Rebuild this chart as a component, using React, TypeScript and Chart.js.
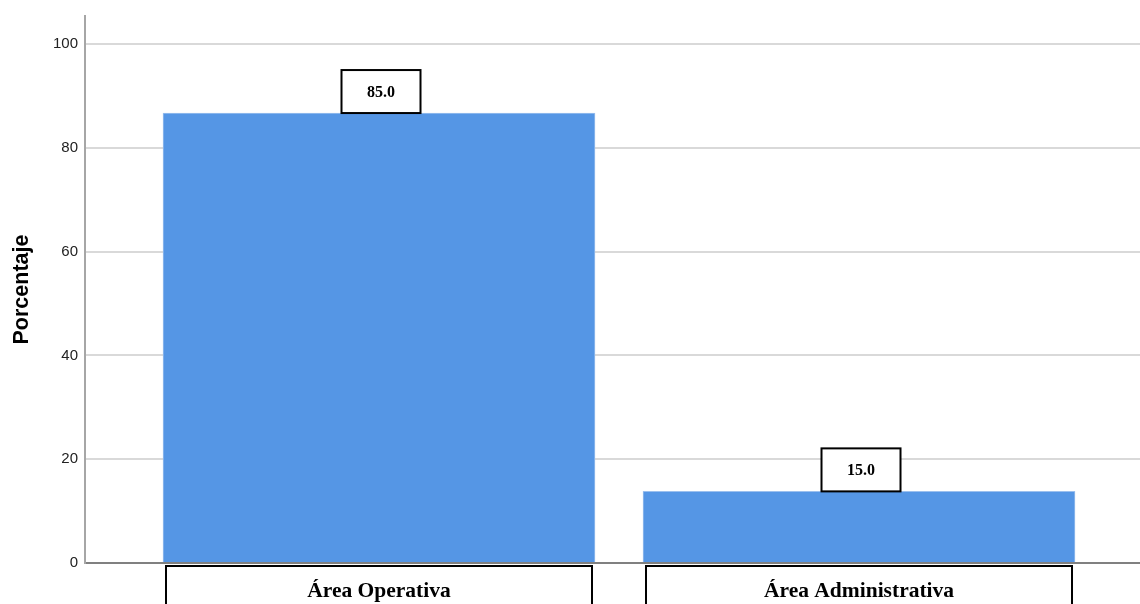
import React, { useEffect, useRef } from "react";
import { Chart, registerables } from "chart.js";

Chart.register(...registerables);

const categories = ["Área Operativa", "Área Administrativa"];
const barValues = [86.7, 13.8];
const valueLabels = ["85.0", "15.0"];
const yTicks = [0, 20, 40, 60, 80, 100];

const SERIF = "'Liberation Serif', 'Times New Roman', serif";
const SANS = "'Liberation Sans', Arial, sans-serif";

const boxesPlugin = {
  id: "boxes",
  afterDatasetsDraw(chart: any) {
    const ctx = chart.ctx;
    const meta = chart.getDatasetMeta(0);
    const area = chart.chartArea;
    ctx.save();
    meta.data.forEach((el: any, i: number) => {
      const props = el.getProps(["x", "y", "width"], true);
      // value label box
      const bw = 79;
      const bh = 43;
      const bx = props.x + 2 - bw / 2;
      const by = props.y - bh;
      ctx.fillStyle = "#ffffff";
      ctx.fillRect(bx, by, bw, bh);
      ctx.lineWidth = 2;
      ctx.strokeStyle = "#000000";
      ctx.strokeRect(bx, by, bw, bh);
      ctx.fillStyle = "#000000";
      ctx.font = `bold 16px ${SERIF}`;
      ctx.textAlign = "center";
      ctx.textBaseline = "middle";
      ctx.fillText(valueLabels[i], props.x + 2, by + bh / 2 + 1);

      // category label box
      const cx0 = props.x - props.width / 2 + 3;
      const cw = props.width - 6;
      const cy0 = area.bottom + 3;
      ctx.fillStyle = "#ffffff";
      ctx.fillRect(cx0, cy0, cw, 60);
      ctx.strokeRect(cx0, cy0, cw, 60);
      ctx.fillStyle = "#000000";
      ctx.font = `bold 21.5px ${SERIF}`;
      ctx.textBaseline = "alphabetic";
      ctx.fillText(categories[i], props.x, area.bottom + 34);
    });
    ctx.restore();
  },
};

export default function App() {
  const ref = useRef<HTMLCanvasElement | null>(null);

  useEffect(() => {
    if (!ref.current) return;
    const chart = new Chart(ref.current, {
      type: "bar",
      data: {
        datasets: [
          {
            data: barValues.map((v, i) => ({ x: i, y: v })),
            backgroundColor: "#5596e5",
            borderColor: "#9cc0ee",
            borderWidth: 1,
            barThickness: 432,
          } as any,
        ],
      },
      options: {
        responsive: false,
        animation: false,
        events: [],
        layout: { padding: { top: 15, left: 0, right: 0, bottom: 0 } },
        plugins: {
          legend: { display: false },
          tooltip: { enabled: false },
        },
        scales: {
          x: {
            type: "linear",
            offset: false,
            min: -0.6125,
            max: 1.5854,
            grid: { display: false },
            border: { display: true, color: "#808080", width: 2 },
            ticks: { display: false },
            afterFit(scale: any) {
              scale.height = 41;
            },
          },
          y: {
            min: 0,
            max: 105.4,
            grid: { color: "#d9d9d9", lineWidth: 2, drawTicks: false },
            border: { display: true, color: "#a6a6a6", width: 2 },
            afterBuildTicks(scale: any) {
              scale.ticks = yTicks.map((v) => ({ value: v }));
            },
            ticks: {
              padding: 7,
              color: "#222222",
              font: { family: SANS, size: 15 },
            },
            title: {
              display: true,
              text: "Porcentaje",
              color: "#000000",
              font: { family: SANS, size: 21.5, weight: "bold" },
              padding: { top: 9, bottom: 0 },
            },
            afterFit(scale: any) {
              scale.width = 85;
            },
          },
        },
      },
      plugins: [boxesPlugin],
    } as any);
    return () => chart.destroy();
  }, []);

  return (
    <div style={{ position: "absolute", left: 0, top: 0, width: 1140, height: 604, background: "#ffffff" }}>
      <canvas ref={ref} width={1140} height={604} />
    </div>
  );
}
